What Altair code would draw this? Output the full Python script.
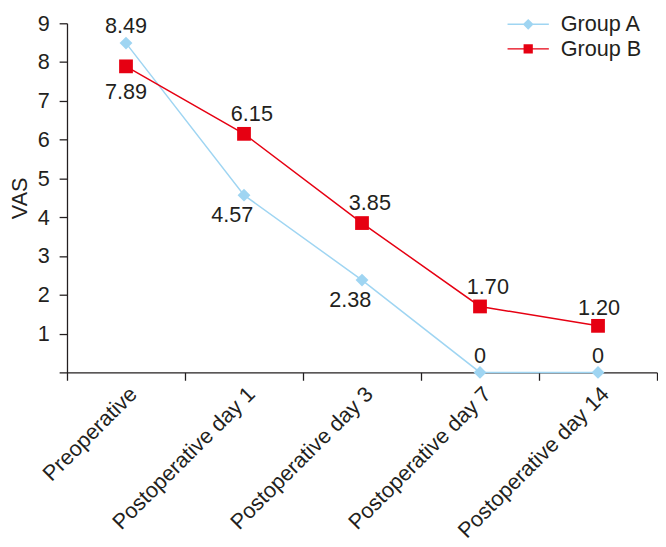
import altair as alt
import pandas as pd

categories = ["Preoperative", "Postoperative day 1", "Postoperative day 3",
              "Postoperative day 7", "Postoperative day 14"]
series = ["Group A", "Group B"]
group_a = [8.49, 4.57, 2.38, 0, 0]
group_b = [7.89, 6.15, 3.85, 1.70, 1.20]
labels_a = ["8.49", "4.57", "2.38", "0", "0"]
labels_b = ["7.89", "6.15", "3.85", "1.70", "1.20"]
place_a = ["above", "below-left", "below-left", "above", "above"]
place_b = ["below", "above-right", "above-right", "above-right", "above"]
y_ticks = list(range(10))

colors = ["#9fd5f2", "#e60012"]
ink = "#231f20"
FONT = "Liberation Sans"
FS = 22

# label offsets per (series, placement)
offsets = {
    ("Group A", "above"): (0, -17),
    ("Group A", "below-left"): (-12, 20),
    ("Group B", "below"): (0, 26),
    ("Group B", "above-right"): (8, -20),
    ("Group B", "above"): (1, -18),
}

rows = []
for s, vals, labs, places in [("Group A", group_a, labels_a, place_a),
                              ("Group B", group_b, labels_b, place_b)]:
    for c, v, l, p in zip(categories, vals, labs, places):
        rows.append({"cat": c, "series": s, "vas": v, "label": l, "place": p})
df = pd.DataFrame(rows)

X = alt.X("cat:N", sort=categories, bandPosition=0.5,
          scale=alt.Scale(type="band", domain=categories, paddingInner=0, paddingOuter=0),
          axis=alt.Axis(title=None, labelAngle=315, labelAlign="right", tickBand="extent",
                        tickSize=8, labelPadding=3, labelLimit=400))
Y = alt.Y("vas:Q", scale=alt.Scale(domain=[0, 9], nice=False, zero=True),
          axis=alt.Axis(title="VAS", values=y_ticks, grid=False, tickSize=8, labelPadding=10,
                        titlePadding=6,
                        labelExpr="datum.value == 0 ? '' : datum.label"))

base = alt.Chart(df)
layers = []
for s, col in zip(series, colors):
    sub = base.transform_filter(alt.datum.series == s)
    layers.append(sub.mark_line(color=col, strokeWidth=1.5).encode(x=X, y=Y))
for s, col, shp, sz in [("Group A", colors[0], "diamond", 170), ("Group B", colors[1], "square", 196)]:
    sub = base.transform_filter(alt.datum.series == s)
    layers.append(sub.mark_point(shape=shp, filled=True, size=sz, color=col, opacity=1,
                                 strokeWidth=0).encode(x=X, y=Y))
for (s, p), (dx, dy) in offsets.items():
    sub = base.transform_filter((alt.datum.series == s) & (alt.datum.place == p))
    layers.append(sub.mark_text(dx=dx, dy=dy, fontSize=FS, font=FONT, color=ink,
                                baseline="middle", align="center").encode(x=X, y=Y, text="label:N"))

path_a = ("M-4.2,-0.15L4.2,-0.15L4.2,0.15L-4.2,0.15Z"
          "M-1.1,0L0,-1.1L1.1,0L0,1.1Z")
path_b = ("M-4.2,-0.15L4.2,-0.15L4.2,0.15L-4.2,0.15Z"
          "M-0.94,-0.94L0.94,-0.94L0.94,0.94L-0.94,0.94Z")
leg = alt.Legend(title=None, orient="none", legendX=442, legendY=-10)
legend_layer = base.transform_filter("false").mark_point(
    filled=True, size=100, opacity=1, strokeWidth=0).encode(
    x=X, y=Y,
    color=alt.Color("series:N", scale=alt.Scale(domain=series, range=colors), legend=leg),
    shape=alt.Shape("series:N", scale=alt.Scale(domain=series, range=[path_a, path_b]), legend=leg),
)
layers.append(legend_layer)

chart = alt.layer(*layers).properties(
    width=600, height=355,
    padding={"top": 0, "left": 0, "right": 0, "bottom": 0},
).configure_view(stroke=None).configure_axis(
    labelFont=FONT, titleFont=FONT, labelFontSize=FS, titleFontSize=FS,
    labelColor=ink, titleColor=ink, titleFontWeight="normal",
    domainColor=ink, tickColor=ink, domainWidth=1.3, tickWidth=1.3,
).configure_legend(
    labelFont=FONT, labelFontSize=FS, labelColor=ink, padding=0,
    symbolSize=100, symbolOffset=16, labelOffset=22, rowPadding=3, symbolStrokeWidth=0,
)

chart.save("out.html", embed_options={"renderer": "svg", "actions": False})
